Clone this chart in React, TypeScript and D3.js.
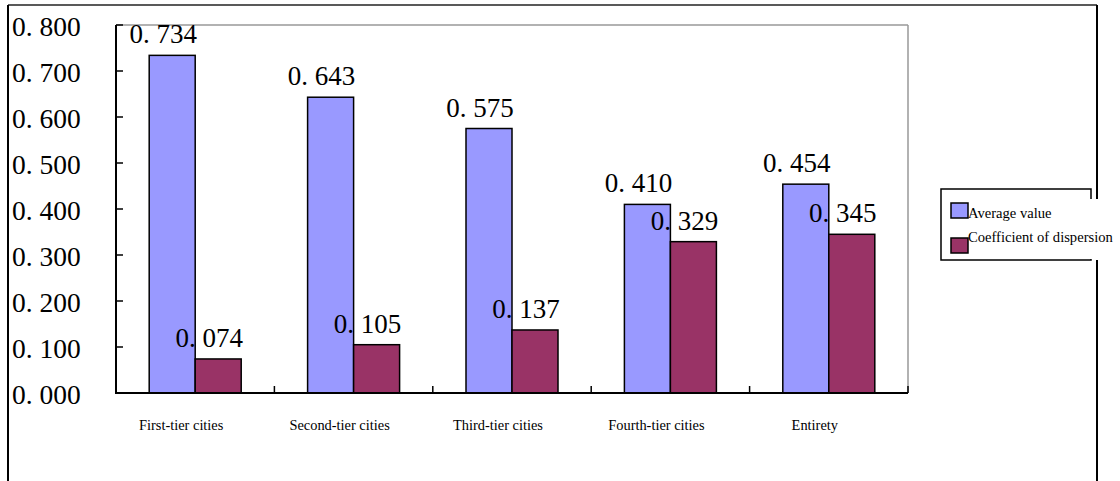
import React from "react";
import * as d3 from "d3";

// Categories and the two series plotted per category
const categories = [
  "First-tier cities",
  "Second-tier cities",
  "Third-tier cities",
  "Fourth-tier cities",
  "Entirety",
];
const averageValue = [0.734, 0.643, 0.575, 0.41, 0.454];
const dispersion = [0.074, 0.105, 0.137, 0.329, 0.345];
const seriesNames = ["Average value", "Coefficient of dispersion"];
const seriesColors = ["#9999FF", "#993366"];
const yTicks = [0, 0.1, 0.2, 0.3, 0.4, 0.5, 0.6, 0.7, 0.8];

const W = 1120;
const H = 481;
const plot = { left: 116, right: 908, top: 25, bottom: 393 };

const serif = "Liberation Serif, DejaVu Serif";
const fmt = (v: number) => d3.format(".3f")(v).replace(".", ". ");

export default function App() {
  const x = d3
    .scaleBand<string>()
    .domain(categories)
    .range([plot.left, plot.right])
    .padding(0);
  const y = d3.scaleLinear().domain([0, 0.8]).range([plot.bottom, plot.top]);
  const barW = 46;
  const inner = d3
    .scaleBand<number>()
    .domain([0, 1])
    .range([-barW, barW])
    .padding(0);

  const series = [averageValue, dispersion];
  const bw = x.bandwidth();

  return (
    <svg
      width={W}
      height={H}
      style={{ position: "absolute", left: 0, top: 0, background: "#fff", fontFamily: serif }}
    >
      {/* outer chart frame */}
      <line x1={8} y1={5} x2={1097} y2={5} stroke="#222" strokeWidth={1.5} />
      <line x1={8} y1={5} x2={8} y2={H} stroke="#000" strokeWidth={2} />
      <line x1={1097} y1={5} x2={1097} y2={H} stroke="#000" strokeWidth={2} />

      {/* plot area border */}
      <line x1={plot.left} y1={plot.top} x2={plot.right} y2={plot.top} stroke="#999" strokeWidth={1.5} />
      <line x1={plot.right} y1={plot.top} x2={plot.right} y2={plot.bottom} stroke="#999" strokeWidth={1.5} />

      {/* bars */}
      {categories.map((c, i) =>
        series.map((s, k) => {
          const cx = (x(c) as number) + bw / 2;
          const x0 = cx + (inner(k) as number);
          return (
            <rect
              key={`${c}-${k}`}
              x={x0}
              y={y(s[i])}
              width={inner.bandwidth()}
              height={y(0) - y(s[i])}
              fill={seriesColors[k]}
              stroke="#000"
              strokeWidth={1.5}
            />
          );
        })
      )}

      {/* value labels */}
      {categories.map((c, i) =>
        series.map((s, k) => {
          const cx = (x(c) as number) + bw / 2 + (inner(k) as number) + inner.bandwidth() / 2;
          return (
            <text
              key={`lab-${c}-${k}`}
              x={cx - 9}
              y={y(s[i]) - 12}
              textAnchor="middle"
              style={{ fontFamily: serif, fontSize: 27 }}
              fill="#000"
            >
              {fmt(s[i])}
            </text>
          );
        })
      )}

      {/* axes */}
      <line x1={plot.left} y1={plot.top} x2={plot.left} y2={plot.bottom + 1} stroke="#000" strokeWidth={2} />
      <line x1={plot.left} y1={plot.bottom} x2={plot.right} y2={plot.bottom} stroke="#000" strokeWidth={2} />
      {yTicks.map((t) => (
        <g key={`yt-${t}`}>
          <line x1={plot.left} x2={plot.left + 7} y1={y(t)} y2={y(t)} stroke="#000" strokeWidth={1.5} />
          <text x={12} y={y(t) + 11} style={{ fontFamily: serif, fontSize: 27.5 }} fill="#000">
            {fmt(t)}
          </text>
        </g>
      ))}
      {categories.map((c) => (
        <line
          key={`xt-${c}`}
          x1={(x(c) as number) + bw}
          x2={(x(c) as number) + bw}
          y1={plot.bottom}
          y2={plot.bottom - 7}
          stroke="#000"
          strokeWidth={1.5}
        />
      ))}
      {categories.map((c) => (
        <text
          key={`xl-${c}`}
          x={(x(c) as number) + bw / 2 - 14}
          y={430}
          textAnchor="middle"
          style={{ fontFamily: serif, fontSize: 14.4 }}
          fill="#000"
        >
          {c}
        </text>
      ))}

      {/* legend */}
      <rect x={941} y={189} width={150} height={71} fill="#fff" stroke="#000" strokeWidth={1.5} />
      <rect x={1092} y={199} width={24} height={61} fill="#fff" />
      <rect x={1090} y={199} width={3} height={60} fill="#fff" />
      {seriesNames.map((n, k) => (
        <g key={`lg-${n}`}>
          <rect
            x={951}
            y={203 + k * 35}
            width={17}
            height={15}
            fill={seriesColors[k]}
            stroke="#000"
            strokeWidth={1.5}
          />
          <text x={968} y={218 + k * 24} style={{ fontFamily: serif, fontSize: 14.6 }} fill="#000">
            {n}
          </text>
        </g>
      ))}
    </svg>
  );
}
